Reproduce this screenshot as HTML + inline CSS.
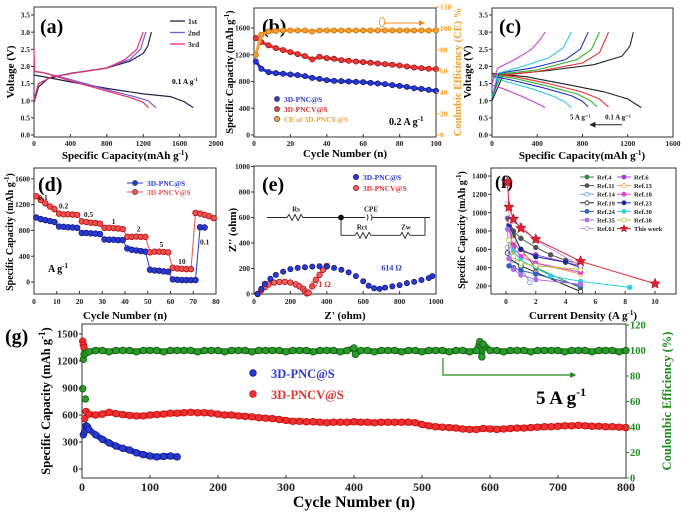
<!DOCTYPE html>
<html><head><meta charset="utf-8">
<style>
html,body{margin:0;padding:0;background:#fff;}
svg{display:block;font-family:"Liberation Serif",serif;font-weight:bold;}
</style></head>
<body>
<svg id="fig" width="687" height="515" viewBox="0 0 687 515" xmlns="http://www.w3.org/2000/svg">
<defs>
<marker id="ahO" markerWidth="6" markerHeight="6" refX="5" refY="3" orient="auto"><path d="M0,0 L6,3 L0,6 z" fill="#f08c1e"/></marker>
<marker id="ahK" markerWidth="6" markerHeight="6" refX="5" refY="3" orient="auto"><path d="M0,0 L6,3 L0,6 z" fill="#222"/></marker>
<marker id="ahG" markerWidth="5" markerHeight="5" refX="4" refY="2.5" orient="auto"><path d="M0,0 L5,2.5 L0,5 z" fill="#1f8a1f"/></marker>
</defs>
<!-- panel labels -->
<text x="40" y="33" font-size="20">(a)</text>
<text x="262" y="33" font-size="20">(b)</text>
<text x="499" y="33" font-size="20">(c)</text>
<text x="38" y="191" font-size="20">(d)</text>
<text x="262" y="191" font-size="20">(e)</text>
<text x="495" y="188" font-size="18">(f)</text>
<text x="5" y="343" font-size="20">(g)</text>
<!-- axis titles -->
<text x="125" y="159" font-size="11" text-anchor="middle">Specific Capacity(mAh g<tspan font-size="7" dy="-4">-1</tspan><tspan dy="4">)</tspan></text>
<text transform="translate(14,72) rotate(-90)" font-size="11" text-anchor="middle">Voltage (V)</text>
<text x="345" y="157" font-size="11" text-anchor="middle">Cycle Number (n)</text>
<text transform="translate(233,72) rotate(-90)" font-size="10.5" text-anchor="middle">Specific Capacity (mAh g<tspan font-size="7" dy="-4">-1</tspan><tspan dy="4">)</tspan></text>
<text transform="translate(461,72) rotate(-90)" font-size="10.5" fill="#f0a030" text-anchor="middle">Coulmbic Efficiency (CE) %</text>
<text x="582" y="159" font-size="11" text-anchor="middle">Specific Capacity(mAh g<tspan font-size="7" dy="-4">-1</tspan><tspan dy="4">)</tspan></text>
<text transform="translate(471,72) rotate(-90)" font-size="11" text-anchor="middle">Voltage (V)</text>
<text x="125" y="319" font-size="11" text-anchor="middle">Cycle Number (n)</text>
<text transform="translate(13,232) rotate(-90)" font-size="10" text-anchor="middle">Specific Capacity (mAh g<tspan font-size="7" dy="-4">-1</tspan><tspan dy="4">)</tspan></text>
<text x="345" y="319" font-size="11" text-anchor="middle">Z' (ohm)</text>
<text transform="translate(236,230) rotate(-90)" font-size="11" text-anchor="middle">Z'' (ohm)</text>
<text x="583" y="319" font-size="11" text-anchor="middle">Current Density (A g<tspan font-size="7" dy="-4">-1</tspan><tspan dy="4">)</tspan></text>
<text transform="translate(465,230) rotate(-90)" font-size="10" text-anchor="middle">Specific Capacity (mAh g<tspan font-size="7" dy="-4">-1</tspan><tspan dy="4">)</tspan></text>
<text x="354" y="507" font-size="16" text-anchor="middle">Cycle Number (n)</text>
<text transform="translate(50,401) rotate(-90)" font-size="12.5" text-anchor="middle">Specific Capacity (mAh g<tspan font-size="9" dy="-5">-1</tspan><tspan dy="5">)</tspan></text>
<text transform="translate(671,401) rotate(-90)" font-size="12.5" fill="#1f8a1f" text-anchor="middle">Coulombic Efficiency (%)</text>
<!-- annotations -->
<text x="172" y="84" font-size="7.5">0.1 A g<tspan font-size="5" dy="-3">-1</tspan></text>
<text x="389" y="125" font-size="10">0.2 A g<tspan font-size="7" dy="-4">-1</tspan></text>
<text x="48" y="272" font-size="10">A g<tspan font-size="7" dy="-4">-1</tspan></text>
<text x="536" y="404" font-size="19">5 A g<tspan font-size="12" dy="-8">-1</tspan></text>
</svg>
<script>
const NS='http://www.w3.org/2000/svg';
const svg=document.getElementById('fig');
// ---------- DATA ----------
// (a)
const aCycles=['1st','2nd','3rd'];
const aColors=['#23234a','#7a5ad6','#e8306a'];
const aDis=[[[0,1.75],[200,1.65],[400,1.55],[800,1.36],[1200,1.2],[1500,1.12],[1650,0.97],[1750,0.8]],
 [[0,1.85],[100,1.82],[400,1.62],[800,1.32],[1100,1.12],[1250,1.0],[1340,0.8]],
 [[0,2.5],[5,1.86],[100,1.82],[400,1.58],[800,1.28],[1050,1.1],[1200,0.95],[1260,0.8]]];
const aCha=[[[0,0.95],[50,1.4],[150,1.64],[400,1.8],[800,1.95],[1050,2.15],[1200,2.38],[1250,2.6],[1290,3.0]],
 [[0,1.05],[50,1.5],[200,1.7],[500,1.83],[800,1.96],[1050,2.2],[1170,2.5],[1230,3.0]],
 [[0,1.0],[50,1.5],[200,1.7],[500,1.83],[800,1.95],[1000,2.2],[1130,2.5],[1200,3.0]]];
// (b)
const bCycles=[1,4,8,12,16,20,24,28,32,36,40,44,48,52,56,60,64,68,72,76,80,84,88,92,96,100];
const bPNC=[1100,990,940,925,915,905,895,880,855,840,820,810,805,800,795,790,780,770,760,745,735,720,700,690,675,660];
const bPNCV=[1450,1390,1340,1300,1270,1240,1210,1180,1130,1170,1150,1140,1120,1110,1100,1090,1080,1070,1060,1050,1040,1025,1010,1000,990,985];
const bCE=[75,94,97,97.5,98,98,98,98,97,98,98,98,98,98,98,98,98,98,98,98,98,98,98,98,98,98];
// (c)
const cColors=['#222','#e03030','#30b030','#2030c0','#30c8d8','#d040d0'];
const cDis=[[[0,1.8],[300,1.7],[700,1.45],[1000,1.25],[1200,1.05],[1320,0.8]],
 [[0,1.78],[200,1.7],[500,1.5],[800,1.25],[950,1.05],[1030,0.82]],
 [[0,1.75],[200,1.65],[500,1.42],[750,1.2],[870,1.0],[930,0.82]],
 [[0,1.72],[150,1.62],[450,1.38],[700,1.15],[800,0.98],[850,0.82]],
 [[0,1.7],[100,1.58],[350,1.35],[550,1.12],[650,0.95],[700,0.8]],
 [[0,1.45],[100,1.35],[250,1.15],[380,0.95],[470,0.8]]];
const cCha=[[[0,1.0],[100,1.75],[500,1.88],[900,2.05],[1150,2.3],[1220,2.6],[1250,3.0]],
 [[0,1.1],[80,1.75],[400,1.85],[800,2.1],[950,2.4],[1030,3.0]],
 [[0,1.1],[80,1.78],[400,1.9],[750,2.2],[880,2.5],[950,3.0]],
 [[0,1.05],[60,1.8],[350,1.95],[650,2.2],[780,2.5],[850,3.0]],
 [[0,1.1],[50,1.8],[250,1.98],[500,2.25],[630,2.55],[700,3.0]],
 [[0,1.5],[50,1.95],[200,2.2],[350,2.5],[430,2.8],[470,3.0]]];
// (d)
const dCycles=[1,3,5,7,9,11,13,15,17,19,21,23,25,27,29,31,33,35,37,39,41,43,45,47,49,51,53,55,57,59,61,63,65,67,69,71,73,75,77,79];
const dPNC=[1000,975,960,945,930,860,855,850,845,840,760,760,755,750,745,660,655,655,650,650,520,500,490,480,470,190,180,175,165,160,40,35,30,30,30,30,850,845];
const dPNCV=[1330,1270,1220,1170,1130,1060,1050,1050,1045,1040,940,930,920,915,905,840,840,835,830,820,700,700,705,700,700,460,470,470,465,460,220,210,205,200,200,1070,1060,1040,1020,990];
const dRates=['0.1','0.2','0.5','1','2','5','10','0.1'];
const dRateX=[4,13,24,35,46,56,65,75];
const dRateY=[1270,1140,1010,900,780,540,280,580];
// (e)
const eBlueX=[20,40,60,90,120,160,200,240,280,320,360,400,440,480,520,560,600,630,660,690,720,760,800,840,880,920,960,980];
const eBlueY=[0,40,80,120,150,175,195,205,210,215,218,215,205,190,170,140,100,65,45,40,50,60,70,85,95,110,125,140];
const eRedX=[20,40,60,80,110,140,170,200,230,250,270,280,290,300,320,340,360,380,400];
const eRedY=[0,30,55,75,90,95,95,90,75,60,40,20,5,10,60,110,150,190,220];
// (f)
const fNames=['Ref.4','Ref.6','Ref.11','Ref.13','Ref.14','Ref.18','Ref.19','Ref.23','Ref.24','Ref.30','Ref.35','Ref.38','Ref.61','This work'];
const fColors=['#2e8a3a','#a040c8','#555','#f0a050','#60a0e0','#e040e0','#222','#1a2a9a','#3060c0','#30d0e0','#b070e0','#b0c040','#c090e0','#e02030'];
const fOpen=[0,0,0,1,1,0,1,0,0,0,0,1,1,0];
const fX=[[0.2,0.5,1,2,5],[0.1,0.5,1,2,5],[0.2,0.5,1,2,3,4,5],[0.2,0.5,1,2,5],[0.1,0.5,1,1.6],[0.2,0.5,1,2,5],[0.1,0.2,1,2,5],[0.2,1,2,4,5],[0.2,0.5,1,2,5],[0.2,0.5,1,3,5,8.3],[0.1,0.2,0.5,1,2,5],[0.2,0.5,1,2,5],[0.1,0.3,1,2,5],[0.1,0.2,0.5,1,2,5,10]];
const fY=[[920,750,600,400,180],[940,660,580,540,420],[920,800,720,620,540,480,440],[880,700,560,450,330],[620,480,400,240],[820,620,520,450,350],[560,500,420,350,140],[860,600,520,460,400],[420,400,370,330,200],[700,580,480,310,250,185],[820,500,380,320,270,220],[700,520,450,420,380],[1100,900,860,700,420],[1330,1060,930,830,710,470,225]];
// (g)
const gRedCycles=[1,2,3,4,6,10,20,30,40,50,60,70,80,90,100,110,120,130,140,150,160,170,180,190,200,210,220,230,240,250,260,270,280,290,300,310,320,330,340,350,360,370,380,390,400,410,420,430,440,450,460,470,480,490,500,510,520,530,540,550,560,570,580,590,600,610,620,630,640,650,660,670,680,690,700,710,720,730,740,750,760,770,780,790,800];
const gRed=[1420,1380,1350,560,640,610,600,610,630,615,605,595,590,590,600,605,610,620,620,625,630,625,625,620,610,600,600,590,585,580,570,565,560,550,540,530,530,525,525,520,515,520,520,520,525,520,520,515,520,520,520,520,520,515,495,480,470,465,460,455,445,440,440,450,445,440,445,450,455,455,460,465,470,470,475,480,480,485,480,475,475,470,470,465,460];
const gBlueCycles=[2,4,6,8,10,20,30,40,50,60,70,80,90,100,110,120,130,140];
const gBlue=[380,420,480,470,440,380,330,290,255,230,210,180,160,145,135,140,145,135];
const gCECycles=[1,2,3,5,6,10,20,30,40,50,60,70,80,90,100,110,120,130,140,150,160,170,180,190,200,210,220,230,240,250,260,270,280,290,300,310,320,330,340,350,360,370,380,390,400,402,410,420,430,440,450,460,470,480,490,500,510,520,530,540,550,560,570,580,585,588,590,600,610,620,630,640,650,660,670,680,690,700,710,720,730,740,750,760,770,780,790,800];
const gCE=[70,93,97,62,98,99,100,100,99,100,100,100,99,100,100,100,99,100,100,100,100,99,100,100,100,99,100,100,100,99,100,100,100,100,99,100,100,100,99,100,100,100,99,100,102,97,100,100,99,100,100,100,99,100,100,99,100,100,100,99,100,100,99,100,107,95,105,100,100,99,100,100,100,99,100,100,100,100,99,100,100,100,99,100,100,100,99,100];
// ---------- HELPERS ----------
function lin(d0,d1,r0,r1){return v=>r0+(v-d0)*(r1-r0)/(d1-d0);}
function mk(tag,attrs,name){
  const e=document.createElementNS(NS,tag);
  for(const k in attrs) e.setAttribute(k,attrs[k]);
  
  
  svg.appendChild(e);return e;
}
function txt(x,y,s,size,name,anchor,fill){
  const t=mk('text',{x:x,y:y,'font-size':size,'text-anchor':anchor||'middle',fill:fill||'#222'},name);
  t.textContent=s;return t;
}
function frame(p,name){
  mk('rect',{x:p.x0,y:p.y0,width:p.x1-p.x0,height:p.y1-p.y0,fill:'none',stroke:'#333','stroke-width':1},name);
}
function xTicks(p,xs,ticks,fs,dy,name){
  ticks.forEach(v=>{const x=xs(v);
    mk('line',{x1:x,x2:x,y1:p.y1,y2:p.y1-3,stroke:'#333'},name+'-tick');
    txt(x,p.y1+dy,String(v),fs,name+'-label');});
}
function yTicks(p,ys,ticks,fs,name,fmt,right,color){
  ticks.forEach(v=>{const y=ys(v);const xa=right?p.x1:p.x0;
    mk('line',{x1:xa,x2:right?xa+3:xa-3,y1:y,y2:y,stroke:color||'#333'},name+'-tick');
    txt(right?xa+4:xa-4,y+fs*0.35,fmt?fmt(v):String(v),fs,name+'-label',right?'start':'end',color);});
}
function poly(pts,color,w,name){
  mk('polyline',{points:pts.map(p=>p[0].toFixed(1)+','+p[1].toFixed(1)).join(' '),fill:'none',stroke:color,'stroke-width':w,'stroke-linejoin':'round'},name);
}
function dot(x,y,r,fill,stroke,name){mk('circle',{cx:x,cy:y,r:r,fill:fill,stroke:stroke,'stroke-width':0.8},name);}
function star(cx,cy,r,fill,name){let pts=[];for(let i=0;i<10;i++){const a=-Math.PI/2+i*Math.PI/5;const rr=i%2?r*0.45:r;pts.push((cx+rr*Math.cos(a)).toFixed(1)+','+(cy+rr*Math.sin(a)).toFixed(1));}
  mk('polygon',{points:pts.join(' '),fill:fill,stroke:'#a01010','stroke-width':0.5},name);}
// ---------- (a) ----------
{const p={x0:34,x1:216,y0:7,y1:137};const xs=lin(0,2000,34,216),ys=lin(0,3.5,135,15);
 frame(p,'a-plot-frame');
 for(let i=0;i<3;i++){poly(aDis[i].map(d=>[xs(d[0]),ys(d[1])]),aColors[i],1.2,'a-discharge-'+aCycles[i]);
  poly(aCha[i].map(d=>[xs(d[0]),ys(d[1])]),aColors[i],1.2,'a-charge-'+aCycles[i]);
  mk('line',{x1:170,x2:185,y1:21+i*11.5,y2:21+i*11.5,stroke:aColors[i],'stroke-width':1.3},'a-legend-line');
  txt(188,24+i*11.5,aCycles[i],7.5,'a-legend-text','start');}
 xTicks(p,xs,[0,400,800,1200,1600,2000],7.5,9,'a-x');
 yTicks(p,ys,[0,0.5,1,1.5,2,2.5,3,3.5],7.5,'a-y',v=>v.toFixed(1));}
// ---------- (b) ----------
{const p={x0:254,x1:436,y0:8,y1:137};const xs=lin(0,100,254,436),ys=lin(0,1600,135,28),ys2=lin(0,120,135,7);
 frame(p,'b-plot-frame');
 const ser=[[bPNC,'#2a3ad0','#101880',ys,'b-pnc'],[bPNCV,'#e83a3a','#a01010',ys,'b-pncv'],[bCE,'#f5a030','#d07010',ys2,'b-ce']];
 ser.forEach(s=>{const pts=bCycles.map((c,i)=>[xs(c),s[3](s[0][i])]);poly(pts,s[1],3,s[4]+'-band');
   pts.forEach(q=>dot(q[0],q[1],2.6,s[1],s[2],s[4]+'-point'));});
 xTicks(p,xs,[0,20,40,60,80,100],7.5,9,'b-x');
 yTicks(p,ys,[0,400,800,1200,1600],7.5,'b-y');
 yTicks(p,ys2,[0,20,40,60,80,100,120],7.5,'b-y2',null,true,'#f0a030');
 [['3D-PNC@S','#2a3ad0','#2a3ad0'],['3D-PNCV@S','#e83a3a','#d03030'],['CE of 3D-PNCV@S','#f5a030','#f0a030']].forEach((l,i)=>{
   dot(277,99+i*10,2.6,l[1],'#555','b-legend-marker');txt(284,102+i*10,l[0],7.5,'b-legend-text','start',l[2]);});
 mk('ellipse',{cx:382,cy:22,rx:2.5,ry:5,fill:'none',stroke:'#f08c1e','stroke-width':0.8},'b-ce-indicator');
 mk('line',{x1:384,x2:424,y1:23,y2:23,stroke:'#f08c1e','stroke-width':1,'marker-end':'url(#ahO)'},'b-ce-arrow');}
// ---------- (c) ----------
{const p={x0:492,x1:673,y0:8,y1:137};const xs=lin(0,1600,492,673),ys=lin(0,3.5,135,15);
 frame(p,'c-plot-frame');
 for(let i=0;i<6;i++){poly(cDis[i].map(d=>[xs(d[0]),ys(d[1])]),cColors[i],1.1,'c-discharge');
  poly(cCha[i].map(d=>[xs(d[0]),ys(d[1])]),cColors[i],1.1,'c-charge');}
 mk('line',{x1:xs(1150),x2:xs(870),y1:ys(0.3),y2:ys(0.3),stroke:'#222','stroke-width':1,'marker-end':'url(#ahK)'},'c-rate-arrow');
 txt(xs(690),ys(0.45),'5 A g⁻¹',7,'c-rate-high','start');
 txt(xs(1000),ys(0.45),'0.1 A g⁻¹',7,'c-rate-low','start');
 xTicks(p,xs,[0,400,800,1200,1600],7.5,9,'c-x');
 yTicks(p,ys,[0,0.5,1,1.5,2,2.5,3,3.5],7.5,'c-y',v=>v.toFixed(1));}
// ---------- (d) ----------
{const p={x0:34,x1:216,y0:168,y1:294};const xs=lin(0,80,34,216),ys=lin(0,1200,282,204.6);
 frame(p,'d-plot-frame');
 [[dPNC,'#2a3ad0','#101880','d-pnc'],[dPNCV,'#f05050','#b01010','d-pncv']].forEach(s=>{
   const pts=s[0].map((v,i)=>[xs(dCycles[i]),ys(v)]);poly(pts,s[1],1,s[3]+'-line');
   pts.forEach(q=>dot(q[0],q[1],2.8,s[1],s[2],s[3]+'-point'));});
 dRates.forEach((r,i)=>txt(xs(dRateX[i]),ys(dRateY[i]),r,7.5,'d-rate-label'));
 [['3D-PNC@S','#2a3ad0'],['3D-PNCV@S','#f05050']].forEach((l,i)=>{
   mk('line',{x1:127,x2:143,y1:183+i*9,y2:183+i*9,stroke:l[1]},'d-legend-line');
   dot(135,183+i*9,2.6,l[1],'#555','d-legend-marker');txt(147,186+i*9,l[0],7.5,'d-legend-text','start',l[1]);});
 xTicks(p,xs,[0,10,20,30,40,50,60,70,80],7.5,10,'d-x');
 yTicks(p,ys,[0,400,800,1200,1600],7.5,'d-y');}
// ---------- (e) ----------
{const p={x0:254,x1:436,y0:166,y1:294};const xs=lin(0,1000,254,436),ys=lin(0,800,294,192);
 frame(p,'e-plot-frame');
 eRedX.forEach((x,i)=>dot(xs(x),ys(eRedY[i]),2.8,'#f06060','#b01010','e-pncv-point'));
 eBlueX.forEach((x,i)=>dot(xs(x),ys(eBlueY[i]),2.6,'#2a3ad0','#101880','e-pnc-point'));
 txt(xs(700),ys(185),'614 Ω',8,'e-pnc-resistance','start','#2a3ad0');
 txt(xs(310),ys(55),'271 Ω',8,'e-pncv-resistance','start','#e03030');
 dot(356,177,2.6,'#2a3ad0','#101880','e-legend-marker');txt(363,180,'3D-PNC@S',7.5,'e-legend-text','start','#2a3ad0');
 dot(356,188,2.6,'#f06060','#b01010','e-legend-marker');txt(363,191,'3D-PNCV@S',7.5,'e-legend-text','start','#e03030');
 const cy=ys(600),cy2=ys(460);
 mk('path',{d:`M267,${cy} H287 l2,-3 l3,6 l3,-6 l3,6 l3,-6 l2,3 H341 M341,${cy} H365 M367,${cy-3} q2,3 0,6 M371,${cy-3} q2,3 0,6 M372,${cy} H430 M341,${cy} V${cy2} H355 l2,-3 l3,6 l3,-6 l3,6 l3,-6 l2,3 H400 l2,-3 l3,6 l3,-6 l2,3 H425 V${cy}`,fill:'none',stroke:'#222','stroke-width':0.9},'e-circuit');
 dot(341,cy,2.5,'#111','#111','e-circuit-node');
 txt(296,cy-6,'Rs',7,'e-circuit-rs');txt(371,cy-6,'CPE',7,'e-circuit-cpe');
 txt(362,cy2-6,'Rct',7,'e-circuit-rct');txt(406,cy2-6,'Zw',7,'e-circuit-zw');
 xTicks(p,xs,[0,200,400,600,800,1000],7.5,10,'e-x');
 yTicks(p,ys,[0,200,400,600,800,1000],7.5,'e-y');}
// ---------- (f) ----------
{const p={x0:491,x1:676,y0:168,y1:294};const xs=lin(0,10,506,655),ys=lin(200,1400,286,176);
 frame(p,'f-plot-frame');
 fNames.forEach((n,i)=>{const pts=fX[i].map((x,j)=>[xs(x),ys(fY[i][j])]);
   poly(pts,fColors[i],1,'f-series-line');
   pts.forEach(q=>{if(i===13)star(q[0],q[1],5.5,fColors[i],'f-this-work-point');else dot(q[0],q[1],2.3,fOpen[i]?'#fff':fColors[i],fColors[i],'f-ref-point');});
   const col=i%2,row=Math.floor(i/2);const lx=col?617:580,ly=177+row*8.6;
   mk('line',{x1:lx,x2:lx+14,y1:ly,y2:ly,stroke:fColors[i]},'f-legend-line');
   if(i===13)star(lx+7,ly,4,fColors[i],'f-legend-marker');else dot(lx+7,ly,2,fOpen[i]?'#fff':fColors[i],fColors[i],'f-legend-marker');
   txt(lx+17,ly+2.5,n,6.5,'f-legend-text','start');});
 xTicks(p,xs,[0,2,4,6,8,10],7.5,10,'f-x');
 yTicks(p,ys,[200,400,600,800,1000,1200,1400],7.5,'f-y');}
// ---------- (g) ----------
{const p={x0:82,x1:626,y0:324,y1:478};const xs=lin(0,800,82,626),ys=lin(0,1500,469,334),ys2=lin(0,120,478,325);
 frame(p,'g-plot-frame');
 const redPts=gRedCycles.map((c,i)=>[xs(c),ys(gRed[i])]);
 poly(redPts.slice(4),'#f03030',6,'g-pncv-band');redPts.forEach(q=>dot(q[0],q[1],3.3,'#f03030','#c01010','g-pncv-point'));
 const bluePts=gBlueCycles.map((c,i)=>[xs(c),ys(gBlue[i])]);
 poly(bluePts.slice(2),'#2a3ad0',6,'g-pnc-band');bluePts.forEach(q=>dot(q[0],q[1],3.3,'#2a3ad0','#101880','g-pnc-point'));
 const cePts=gCECycles.map((c,i)=>[xs(c),ys2(gCE[i])]);
 poly(cePts.slice(4),'#1f8a1f',6,'g-ce-band');cePts.forEach(q=>dot(q[0],q[1],3.3,'#2a9a2a','#136013','g-ce-point'));
 dot(253,373,3.3,'#2a3ad0','#101880','g-legend-marker');txt(271,378,'3D-PNC@S',12.5,'g-legend-text','start','#2a3ad0');
 dot(253,394,3.3,'#f03030','#c01010','g-legend-marker');txt(271,399,'3D-PNCV@S',12.5,'g-legend-text','start','#e03030');
 mk('path',{d:'M443,358 V375 H575',fill:'none',stroke:'#1f8a1f','stroke-width':1.2,'marker-end':'url(#ahG)'},'g-rate-arrow');
 xTicks(p,xs,[0,100,200,300,400,500,600,700,800],12,13,'g-x');
 yTicks(p,ys,[0,300,600,900,1200,1500],10.5,'g-y');
 yTicks(p,ys2,[0,20,40,60,80,100,120],10.5,'g-y2',null,true,'#1f8a1f');}
</script>
</body></html>
